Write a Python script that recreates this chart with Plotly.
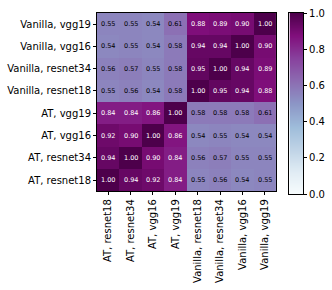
import plotly.graph_objects as go

labels = ["AT, resnet18", "AT, resnet34", "AT, vgg16", "AT, vgg19",
          "Vanilla, resnet18", "Vanilla, resnet34", "Vanilla, vgg16", "Vanilla, vgg19"]

# rows listed bottom to top (same order as labels)
row_at_resnet18 = [1.00, 0.94, 0.92, 0.84, 0.55, 0.56, 0.54, 0.55]
row_at_resnet34 = [0.94, 1.00, 0.90, 0.84, 0.56, 0.57, 0.55, 0.55]
row_at_vgg16 = [0.92, 0.90, 1.00, 0.86, 0.54, 0.55, 0.54, 0.54]
row_at_vgg19 = [0.84, 0.84, 0.86, 1.00, 0.58, 0.58, 0.58, 0.61]
row_van_resnet18 = [0.55, 0.56, 0.54, 0.58, 1.00, 0.95, 0.94, 0.88]
row_van_resnet34 = [0.56, 0.57, 0.55, 0.58, 0.95, 1.00, 0.94, 0.89]
row_van_vgg16 = [0.54, 0.55, 0.54, 0.58, 0.94, 0.94, 1.00, 0.90]
row_van_vgg19 = [0.55, 0.55, 0.54, 0.61, 0.88, 0.89, 0.90, 1.00]

z = [row_at_resnet18, row_at_resnet34, row_at_vgg16, row_at_vgg19,
     row_van_resnet18, row_van_resnet34, row_van_vgg16, row_van_vgg19]

cbar_ticks = [0.0, 0.2, 0.4, 0.6, 0.8, 1.0]

bupu = ['rgb(247,252,253)', 'rgb(224,236,244)', 'rgb(191,211,230)', 'rgb(158,188,218)',
        'rgb(140,150,198)', 'rgb(140,107,177)', 'rgb(136,65,157)', 'rgb(129,15,124)', 'rgb(77,0,75)']
cs = [[i / 8, c] for i, c in enumerate(bupu)]

FONT = "DejaVu Sans"

fig = go.Figure()
fig.add_trace(go.Heatmap(
    z=z, x=list(range(8)), y=list(range(8)),
    colorscale=cs, zmin=0, zmax=1, showscale=False,
    xaxis="x", yaxis="y",
))
# colour bar drawn as a smooth heatmap on its own axes
fig.add_trace(go.Heatmap(
    z=[[t, t] for t in cbar_ticks], x=[0, 1], y=cbar_ticks,
    colorscale=cs, zmin=0, zmax=1, showscale=False, zsmooth="best",
    xaxis="x2", yaxis="y2", hoverinfo="skip",
))

annotations = []
for r, row in enumerate(z):
    for c, v in enumerate(row):
        annotations.append(dict(
            x=c, y=r, xref="x", yref="y", text=f"{v:.2f}", showarrow=False,
            font=dict(family=FONT, size=6.5, color="white" if v > 0.7 else "black"),
        ))

W, H = 332, 290
ml, mr, mt, mb = 93, 25, 7, 90
pw, ph = W - ml - mr, H - mt - mb

fig.update_layout(
    width=W, height=H,
    margin=dict(l=ml, r=mr, t=mt, b=mb),
    paper_bgcolor="white", plot_bgcolor="white",
    font=dict(family=FONT, size=10, color="black"),
    annotations=annotations,
    xaxis=dict(
        domain=[0, 185 / pw], anchor="y",
        tickvals=list(range(8)), ticktext=labels, tickangle=-90,
        ticks="outside", ticklen=3, tickcolor="black",
        showline=True, linecolor="black", linewidth=1, mirror=True,
        showgrid=False, zeroline=False, range=[-0.5, 7.5],
        tickfont=dict(family=FONT, size=10, color="black"),
    ),
    yaxis=dict(
        domain=[3 / ph, 1], anchor="x",
        tickvals=list(range(8)), ticktext=labels,
        ticks="outside", ticklen=3, tickcolor="black",
        showline=True, linecolor="black", linewidth=1, mirror=True,
        showgrid=False, zeroline=False, range=[-0.5, 7.5],
        tickfont=dict(family=FONT, size=10, color="black"),
    ),
    xaxis2=dict(
        domain=[199 / pw, 213 / pw], anchor="y2",
        range=[0, 1], showticklabels=False, ticks="",
        showline=True, linecolor="black", linewidth=1, mirror=True,
        showgrid=False, zeroline=False, fixedrange=True,
    ),
    yaxis2=dict(
        domain=[0, 1], anchor="x2", side="right",
        range=[0, 1], tickmode="array", tickvals=cbar_ticks,
        ticktext=[f"{t:.1f}" for t in cbar_ticks],
        ticks="outside", ticklen=3, tickcolor="black",
        showline=True, linecolor="black", linewidth=1, mirror=True,
        showgrid=False, zeroline=False, fixedrange=True,
        tickfont=dict(family=FONT, size=10, color="black"),
    ),
)

fig.write_html(
    "out.html",
    config={"displayModeBar": False},
    post_script="document.body.style.margin='0';document.body.style.padding='0';"
                "document.documentElement.style.overflow='hidden';",
)
